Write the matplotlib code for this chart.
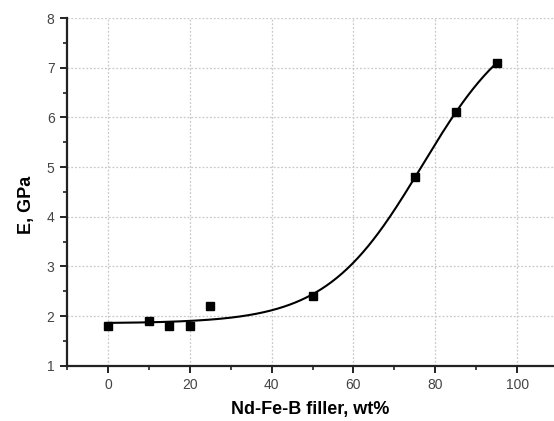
import numpy as np
import matplotlib
matplotlib.use('Agg')
import matplotlib.pyplot as plt
from matplotlib.ticker import MultipleLocator

# measured points
filler = [0, 10, 15, 20, 25, 50, 75, 85, 95]
modulus = [1.8, 1.9, 1.8, 1.8, 2.2, 2.4, 4.8, 6.1, 7.1]

x_ticks = [0, 20, 40, 60, 80, 100]
y_ticks = [1, 2, 3, 4, 5, 6, 7, 8]


def boltzmann_fit(x, y):
    # Boltzmann sigmoid fit (as in Origin): grid search on x0, dx, linear solve for A1, A2
    best = None
    for x0 in np.arange(50, 110, 0.25):
        for dx in np.arange(2, 30, 0.1):
            s = 1.0 / (1.0 + np.exp((x - x0) / dx))
            M = np.column_stack([s, 1 - s])
            coef, *_ = np.linalg.lstsq(M, y, rcond=None)
            err = np.sum((M @ coef - y) ** 2)
            if best is None or err < best[0]:
                best = (err, x0, dx, coef)
    return best[1:]


x = np.array(filler, dtype=float)
y = np.array(modulus, dtype=float)
x0, dx, (a1, a2) = boltzmann_fit(x, y)
xf = np.linspace(x.min(), x.max(), 300)
yf = a2 + (a1 - a2) / (1 + np.exp((xf - x0) / dx))

plt.rcParams['font.family'] = ['Liberation Sans', 'DejaVu Sans']

fig = plt.figure(figsize=(5.54, 4.21), dpi=100)
ax = fig.add_axes([0.121, 0.131, 0.879, 0.826])

ax.plot(xf, yf, color='black', lw=1.5, zorder=3)
ax.plot(filler, modulus, 's', color='black', ms=6, zorder=4)

ax.set_xlim(-10, 109)
ax.set_ylim(1, 8)
ax.set_xticks(x_ticks)
ax.set_yticks(y_ticks)
ax.xaxis.set_minor_locator(MultipleLocator(10))
ax.yaxis.set_minor_locator(MultipleLocator(0.5))

ax.grid(True, which='major', ls=(0, (1.5, 1.5)), color='#cfc6c6', lw=0.9)
ax.set_axisbelow(True)

for side in ['top', 'right']:
    ax.spines[side].set_visible(False)
for side in ['left', 'bottom']:
    ax.spines[side].set_linewidth(1.6)
    ax.spines[side].set_color('#222222')

ax.tick_params(which='major', direction='out', length=5, width=1.4, color='#222222',
               labelsize=10, labelcolor='#444444', pad=4)
ax.tick_params(which='minor', direction='out', length=3, width=1.2, color='#222222')

ax.set_xlabel('Nd-Fe-B filler, wt%', fontsize=13, fontweight='bold', labelpad=6)
ax.set_ylabel('E, GPa', fontsize=13, fontweight='bold')
ax.yaxis.set_label_coords(-0.065, 0.463)

fig.savefig('out.png', dpi=100)
